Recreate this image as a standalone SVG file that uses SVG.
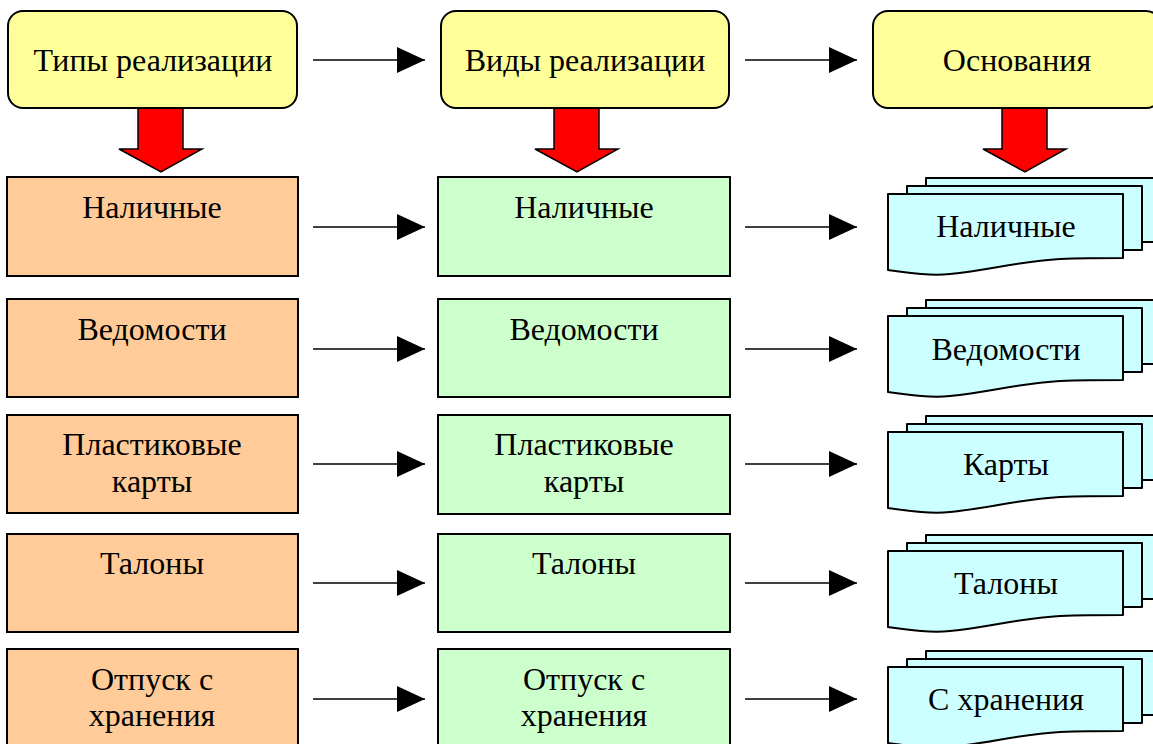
<svg xmlns="http://www.w3.org/2000/svg" xmlns:xlink="http://www.w3.org/1999/xlink" width="1153" height="744" viewBox="0 0 1153 744">
<style>
  text { font-family: "Liberation Serif", "Times New Roman", serif; font-size: 32px; fill: #000; text-anchor: middle; }
  .hdr { fill: #FFFF99; stroke: #000; stroke-width: 2; }
  .org { fill: #FFCC99; stroke: #000; stroke-width: 2; }
  .grn { fill: #CCFFCC; stroke: #000; stroke-width: 2; }
  .doc { fill: #CCFFFF; stroke: #000; stroke-width: 2; stroke-linejoin: round; }
  .red { fill: #FF0000; stroke: #000; stroke-width: 1.5; stroke-linejoin: miter; }
  .con { stroke: #000; stroke-width: 1.5; fill: none; marker-end: url(#ah); }
</style>
<defs>
  <marker id="ah" markerUnits="userSpaceOnUse" markerWidth="28" markerHeight="26" refX="28" refY="13" orient="auto">
    <path d="M0,0 L28,13 L0,26 Z" fill="#000"/>
  </marker>
  <g id="mdoc">
    <rect class="doc" x="926" y="1" width="235" height="64"/>
    <rect class="doc" x="907" y="9" width="235" height="64"/>
    <path class="doc" d="M888,17 H1123 V81 C1105,81 1085,81 1060,82 C1020,84 990,93 950,97 C930,99 910,96 888,93 Z"/>
  </g>
  <path id="bigarrow" class="red" d="M-23,108 H22 V149 H41 L0,172 L-42,149 H-23 Z"/>
</defs>

<g id="connectors">
  <line class="con" x1="313" y1="60" x2="425" y2="60"/>
  <line class="con" x1="745" y1="60" x2="857" y2="60"/>
  <line class="con" x1="313" y1="227" x2="425" y2="227"/>
  <line class="con" x1="745" y1="227" x2="857" y2="227"/>
  <line class="con" x1="313" y1="349" x2="425" y2="349"/>
  <line class="con" x1="745" y1="349" x2="857" y2="349"/>
  <line class="con" x1="313" y1="464" x2="425" y2="464"/>
  <line class="con" x1="745" y1="464" x2="857" y2="464"/>
  <line class="con" x1="313" y1="583" x2="425" y2="583"/>
  <line class="con" x1="745" y1="583" x2="857" y2="583"/>
  <line class="con" x1="313" y1="699" x2="425" y2="699"/>
  <line class="con" x1="745" y1="699" x2="857" y2="699"/>
  <use xlink:href="#bigarrow" href="#bigarrow" transform="translate(161,0)"/>
  <use xlink:href="#bigarrow" href="#bigarrow" transform="translate(577,0)"/>
  <use xlink:href="#bigarrow" href="#bigarrow" transform="translate(1025,0)"/>
</g>

<g id="hdr-types">
  <rect class="hdr" x="8" y="11" width="289" height="97" rx="15"/>
  <text x="153" y="71">Типы реализации</text>
</g>
<g id="hdr-kinds">
  <rect class="hdr" x="441" y="11" width="288" height="97" rx="15"/>
  <text x="585" y="71">Виды реализации</text>
</g>
<g id="hdr-basis">
  <rect class="hdr" x="873" y="11" width="288" height="97" rx="15"/>
  <text x="1017" y="71">Основания</text>
</g>

<g id="t-cash">
  <rect class="org" x="7" y="177" width="291" height="99"/>
  <text x="152" y="218">Наличные</text>
</g>
<g id="t-stat">
  <rect class="org" x="7" y="299" width="291" height="98"/>
  <text x="152" y="340">Ведомости</text>
</g>
<g id="t-card">
  <rect class="org" x="7" y="415" width="291" height="98"/>
  <text x="152" y="455">Пластиковые</text>
  <text x="152" y="492">карты</text>
</g>
<g id="t-coup">
  <rect class="org" x="7" y="534" width="291" height="98"/>
  <text x="152" y="574">Талоны</text>
</g>
<g id="t-stor">
  <rect class="org" x="7" y="649" width="291" height="110"/>
  <text x="152" y="690">Отпуск с</text>
  <text x="152" y="726">хранения</text>
</g>

<g id="k-cash">
  <rect class="grn" x="438" y="177" width="292" height="99"/>
  <text x="584" y="218">Наличные</text>
</g>
<g id="k-stat">
  <rect class="grn" x="438" y="299" width="292" height="98"/>
  <text x="584" y="340">Ведомости</text>
</g>
<g id="k-card">
  <rect class="grn" x="438" y="415" width="292" height="99"/>
  <text x="584" y="455">Пластиковые</text>
  <text x="584" y="492">карты</text>
</g>
<g id="k-coup">
  <rect class="grn" x="438" y="534" width="292" height="98"/>
  <text x="584" y="574">Талоны</text>
</g>
<g id="k-stor">
  <rect class="grn" x="438" y="649" width="292" height="110"/>
  <text x="584" y="690">Отпуск с</text>
  <text x="584" y="726">хранения</text>
</g>

<g id="b-cash">
  <use xlink:href="#mdoc" href="#mdoc" transform="translate(0,177)"/>
  <text x="1006" y="237">Наличные</text>
</g>
<g id="b-stat">
  <use xlink:href="#mdoc" href="#mdoc" transform="translate(0,299)"/>
  <text x="1006" y="360">Ведомости</text>
</g>
<g id="b-card">
  <use xlink:href="#mdoc" href="#mdoc" transform="translate(0,415)"/>
  <text x="1006" y="475">Карты</text>
</g>
<g id="b-coup">
  <use xlink:href="#mdoc" href="#mdoc" transform="translate(0,534)"/>
  <text x="1006" y="594">Талоны</text>
</g>
<g id="b-stor">
  <use xlink:href="#mdoc" href="#mdoc" transform="translate(0,650)"/>
  <text x="1006" y="710">С хранения</text>
</g>
</svg>
